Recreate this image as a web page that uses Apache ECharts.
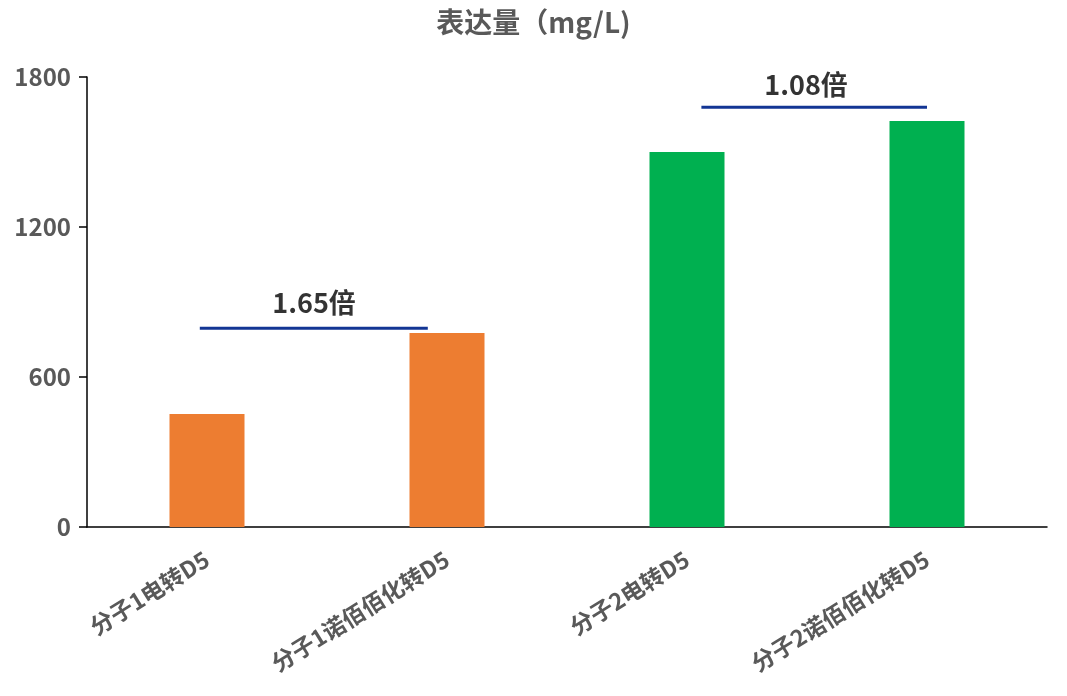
<!DOCTYPE html>
<html>
<head>
<meta charset="utf-8">
<script src="https://cdn.jsdelivr.net/npm/echarts@6/dist/echarts.min.js"></script>
<style>
html,body{margin:0;padding:0;background:#fff;}
#c{width:1067px;height:696px;}
</style>
</head>
<body>
<div id="c"></div>
<script>
const categories = ['分子1电转D5', '分子1诺佰佰化转D5', '分子2电转D5', '分子2诺佰佰化转D5'];
const values = [452, 776, 1500, 1624];
const barColors = ['#ED7D31', '#ED7D31', '#00B050', '#00B050'];
const yTicks = [0, 600, 1200, 1800];
// comparison brackets: [start category pos, end category pos, level]
const bracketStart = [-0.03, 2.06];
const bracketEnd = [0.92, 3.0];
const bracketLevel = [795, 1679];
const bracketText = ['1.65倍', '1.08倍'];
const bracketTextPos = [0.446, 2.496];
const bracketTextLevel = [896, 1768];

const FONT = '"Noto Sans CJK SC","Noto Sans",sans-serif';
const chart = echarts.init(document.getElementById('c'), null, {renderer: 'canvas'});

const series = [{
  type: 'bar',
  xAxisIndex: 0, yAxisIndex: 0,
  barWidth: 75,
  data: values.map((v, i) => ({value: v, itemStyle: {color: barColors[i]}}))
}];
bracketStart.forEach((s, i) => {
  series.push({
    type: 'line', xAxisIndex: 1, yAxisIndex: 0,
    symbol: 'none', silent: true,
    lineStyle: {color: '#123594', width: 3},
    data: [[s, bracketLevel[i]], [bracketEnd[i], bracketLevel[i]]]
  });
});
series.push({
  type: 'scatter', xAxisIndex: 1, yAxisIndex: 0,
  symbolSize: 0, silent: true,
  label: {show: true, position: 'inside', formatter: p => bracketText[p.dataIndex],
          color: '#000', fontSize: 27, fontWeight: 'bold', fontFamily: FONT},
  data: bracketTextPos.map((x, i) => [x, bracketTextLevel[i]])
});

chart.setOption({
  animation: false,
  backgroundColor: '#fff',
  title: {
    text: '表达量（mg/L)', left: 'center', top: 3,
    textStyle: {fontSize: 28, fontWeight: 'bold', color: '#595959', fontFamily: FONT}
  },
  grid: {left: 87, right: 20, top: 77, bottom: 169, containLabel: false},
  xAxis: [{
    type: 'category', data: categories,
    axisLine: {onZero: false, lineStyle: {color: '#000', width: 1.5}},
    axisTick: {show: false},
    axisLabel: {rotate: 32, interval: 0, margin: 30, fontSize: 23, fontWeight: 'bold',
                color: '#595959', fontFamily: FONT}
  }, {
    type: 'value', min: -0.5, max: 3.5, show: false
  }],
  yAxis: {
    type: 'value', min: yTicks[0], max: yTicks[yTicks.length - 1], interval: yTicks[1] - yTicks[0],
    axisLine: {show: true, onZero: false, lineStyle: {color: '#000', width: 1.5}},
    axisTick: {show: true, length: 8, lineStyle: {color: '#000', width: 1.5}},
    splitLine: {show: false},
    axisLabel: {margin: 16, fontSize: 24, fontWeight: 'bold', color: '#595959', fontFamily: FONT,
                formatter: v => String(v)}
  },
  series: series
});
</script>
</body>
</html>
